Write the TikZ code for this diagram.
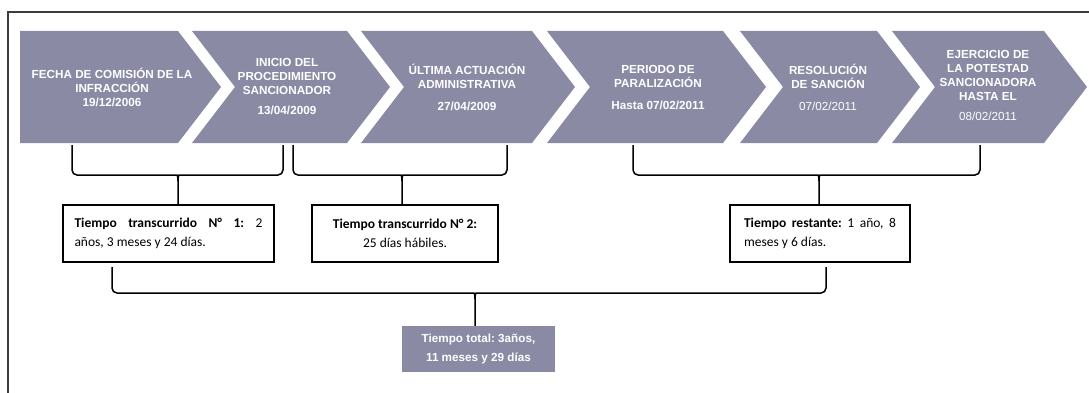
\documentclass[tikz,border=0pt]{standalone}
\usepackage{fontspec}
\setmainfont{Liberation Sans}
\newfontfamily\calfont{Carlito}
\usetikzlibrary{calc}
\definecolor{chevc}{RGB}{138,138,165}
\definecolor{framec}{RGB}{60,60,60}
\frenchspacing
\newcommand\mybrace[4]{%
  \draw[brk] (#1) [rounded corners=5] |- ($(#3)+(-6,0)$) [sharp corners] .. controls ($(#3)+(-1,0)$) and ($(#3)+(0,1)$) .. ($(#3)+(0,6)$) -- (#3 |- #4.north);
  \draw[brk] (#2) [rounded corners=5] |- ($(#3)+(6,0)$) [sharp corners] .. controls ($(#3)+(1,0)$) and ($(#3)+(0,1)$) .. ($(#3)+(0,6)$);}
\newcommand\chev[3]{\fill[chevfill] (#1,31) -- (#2,31) -- ({#2+43},87) -- (#2,143) -- (#1,143) -- ({#1+#3},87) -- cycle;}
\begin{document}
\begin{tikzpicture}[x=1pt,y=-1pt,
 chevfill/.style={fill=chevc},
 chevtext/.style={text=white, align=center, inner sep=0, font=\bfseries\fontsize{11.7}{14}\selectfont},
 tbox/.style={draw=black, line width=1.3pt, fill=white, inner sep=0, font=\calfont\fontsize{13.5}{19}\selectfont},
 brk/.style={draw=black, line width=1.5pt},
 totbox/.style={fill=chevc, text=white, align=center, inner sep=0, font=\bfseries\fontsize{11.7}{19}\selectfont}]
\useasboundingbox (0,0) rectangle (1089,393);
\fill[white] (0,0) rectangle (1089,393);
\begin{scope}
\clip (0,0) rectangle (1089,393);
\draw[framec, line width=1.3pt] (8,400) -- (8,12) -- (1095,12);
\end{scope}
% chevrons
\chev{20}{178}{0}
\chev{192}{347}{43}
\chev{361}{532}{43}
\chev{547}{723}{43}
\chev{740}{877}{43}
\chev{892}{1044}{43}
\node[chevtext] (c1) at (112,87) {FECHA DE COMISIÓN DE LA\\INFRACCIÓN\\19/12/2006};
\node[chevtext] (c2) at (287,87) {INICIO DEL\\PROCEDIMIENTO\\SANCIONADOR\\[6pt]13/04/2009};
\node[chevtext] (c3) at (467,87.5) {ÚLTIMA ACTUACIÓN\\ADMINISTRATIVA\\[8pt]27/04/2009};
\node[chevtext] (c4) at (658,87.5) {PERIODO DE\\PARALIZACIÓN\\[8pt]Hasta 07/02/2011};
\node[chevtext] (c5) at (828,87.5) {RESOLUCIÓN\\DE SANCIÓN\\[8pt]\mdseries 07/02/2011};
\node[chevtext] (c6) at (988,85.5) {EJERCICIO DE\\LA POTESTAD\\SANCIONADORA\\HASTA EL\\[6pt]\mdseries 08/02/2011};
% boxes
\node[tbox, minimum width=211, minimum height=57] (b1) at (168.5,233.5) {\parbox{188pt}{\makebox[188pt][s]{\textbf{Tiempo transcurrido N° 1:} 2}\\años, 3 meses y 24 días.}};
\node[tbox, minimum width=186, minimum height=57] (b2) at (405,233.5) {\parbox{180pt}{\centering\textbf{Tiempo transcurrido N° 2:}\\25 días hábiles.}};
\node[tbox, minimum width=180, minimum height=57] (b3) at (820,233.5) {\parbox{152pt}{\makebox[152pt][s]{\textbf{Tiempo restante:} 1 año, 8}\\meses y 6 días.}};
\node[totbox, minimum width=153, minimum height=46] (tot) at (478.5,349) {Tiempo total: 3años,\\11 meses y 29 días};
% braces
\coordinate (k1l) at (72,145); \coordinate (k1r) at (283,145); \coordinate (s1) at (178,175);
\coordinate (k2l) at (293,145); \coordinate (k2r) at (507,145); \coordinate (s2) at (402,175);
\coordinate (k3l) at (633,145); \coordinate (k3r) at (980,145); \coordinate (s3) at (819,175);
\coordinate (k4l) at (112,267); \coordinate (k4r) at (826,267); \coordinate (s4) at (475,293);
\mybrace{k1l}{k1r}{s1}{b1}
\mybrace{k2l}{k2r}{s2}{b2}
\mybrace{k3l}{k3r}{s3}{b3}
\mybrace{k4l}{k4r}{s4}{tot}
\end{tikzpicture}
\end{document}
